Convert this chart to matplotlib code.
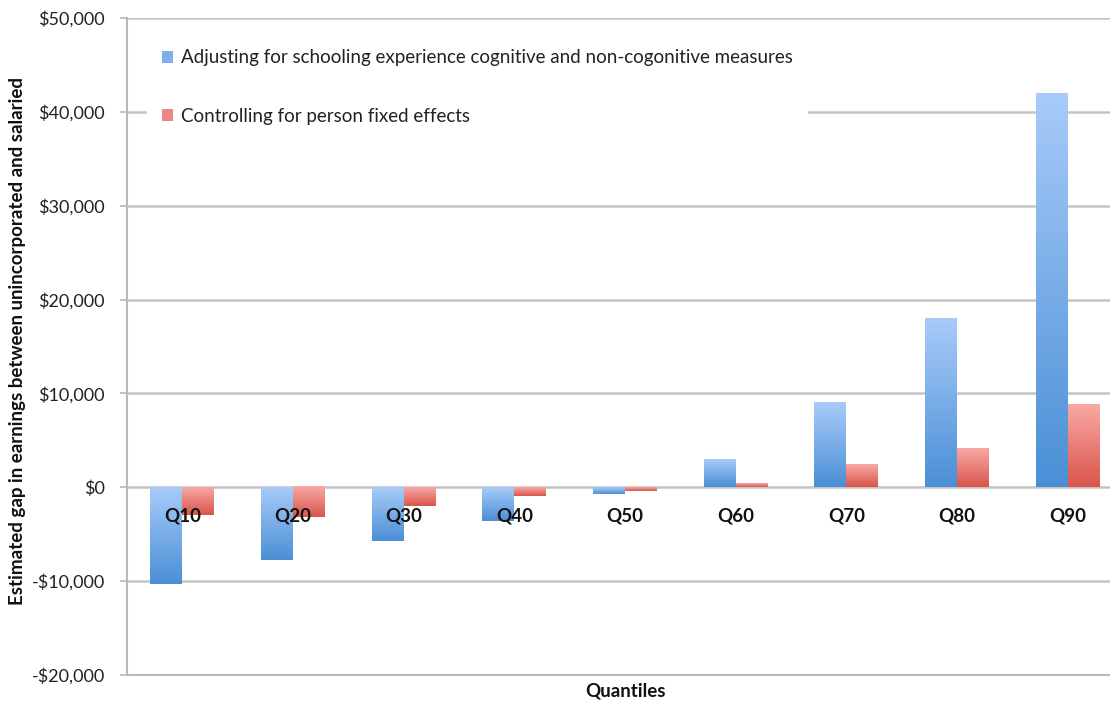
import numpy as np
import matplotlib.pyplot as plt
from matplotlib.colors import LinearSegmentedColormap
from matplotlib.patches import Patch
from matplotlib.ticker import FuncFormatter

plt.rcParams['font.family'] = ['Lato', 'DejaVu Sans']

quantiles = ["Q10", "Q20", "Q30", "Q40", "Q50", "Q60", "Q70", "Q80", "Q90"]
adjusted = [-10300, -7700, -5700, -3600, -700, 2900, 8950, 17950, 41900]
fixed_eff = [-2950, -3200, -2000, -900, -400, 350, 2400, 4150, 8800]

labels = ["Adjusting for schooling experience cognitive and non-cogonitive measures",
          "Controlling for person fixed effects"]

blue_map = LinearSegmentedColormap.from_list("b", ["#4a8fd6", "#a8cbf9"])
red_map = LinearSegmentedColormap.from_list("r", ["#d8554a", "#f9a9a5"])

fig = plt.figure(figsize=(11.1, 7.02), dpi=100)
ax = fig.add_axes([127 / 1110, 27 / 702, 996 / 1110, 657 / 702])

width = 0.289
x = np.arange(len(quantiles))
grad = np.linspace(0, 1, 256).reshape(-1, 1)


def gradient_bars(xs, vals, cmap):
    for xi, v in zip(xs, vals):
        lo, hi = min(0, v), max(0, v)
        ax.imshow(grad, extent=[xi, xi + width, lo, hi], origin="lower",
                  aspect="auto", cmap=cmap, zorder=3, interpolation="bicubic")


gradient_bars(x - width, adjusted, blue_map)
gradient_bars(x, fixed_eff, red_map)

ax.set_xlim(-0.5, len(quantiles) - 0.5)
ax.set_ylim(-20000, 50000)
ax.set_yticks(np.arange(-20000, 50001, 10000))
ax.yaxis.set_major_formatter(FuncFormatter(
    lambda v, p: ("-$" if v < 0 else "$") + f"{abs(int(v)):,}"))
ax.set_xticks([])

ax.grid(axis="y", color="#c4c4c4", linewidth=1.8, zorder=0)
ax.set_axisbelow(True)
for s in ["top", "right"]:
    ax.spines[s].set_visible(False)
for s in ["left", "bottom"]:
    ax.spines[s].set_color("#b8b8b8")
    ax.spines[s].set_linewidth(1.5)
ax.tick_params(axis="y", length=5, width=1.2, color="#b8b8b8", pad=11,
               labelsize=13, labelcolor="#222222")

# category names sit just under the zero line
for xi, q in zip(x, quantiles):
    ax.annotate(q, (xi, 0), xytext=(0, -27), textcoords="offset points",
                ha="center", va="bottom", fontsize=13.5, fontweight="bold",
                color="#111111", zorder=5)

fig.text(626 / 1110, 1 - 691 / 702, "Quantiles", ha="center", va="center",
         fontsize=13.5, fontweight="bold", color="#111111")
fig.text(18 / 1110, 1 - 341 / 702,
         "Estimated gap in earnings between unincorporated and salaried",
         rotation=90, ha="center", va="center", fontsize=13.5,
         fontweight="bold", color="#111111")

handles = [Patch(facecolor="#7db1ec", edgecolor="none"),
           Patch(facecolor="#ec8680", edgecolor="none")]
leg = ax.legend(handles, labels, loc="upper left", bbox_to_anchor=(0.02, 0.975),
                frameon=True, fontsize=13.5, handlelength=0.6, handleheight=0.6,
                handletextpad=0.4, labelspacing=2.2, borderpad=0.8,
                fancybox=False, borderaxespad=0, framealpha=1)
leg.get_frame().set_facecolor("white")
leg.get_frame().set_edgecolor("none")
leg.set_zorder(4)
for t in leg.get_texts():
    t.set_color("#222222")

fig.savefig("out.png", dpi=100)
